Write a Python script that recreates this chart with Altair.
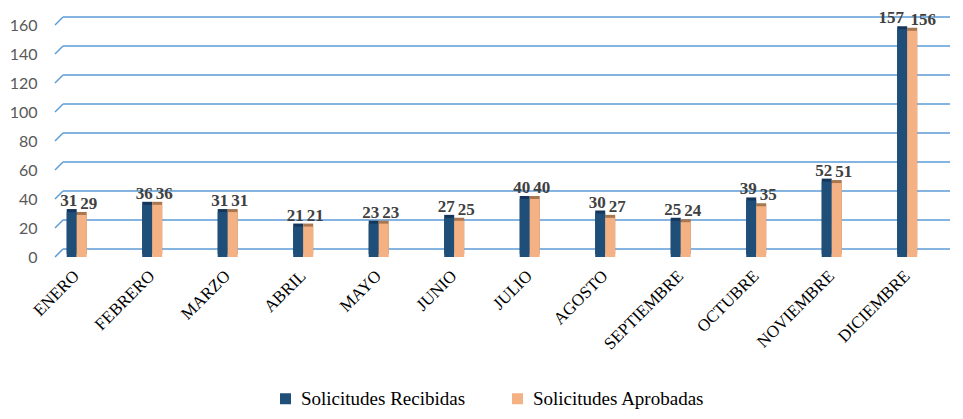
import altair as alt
import pandas as pd

months = ["ENERO", "FEBRERO", "MARZO", "ABRIL", "MAYO", "JUNIO", "JULIO",
          "AGOSTO", "SEPTIEMBRE", "OCTUBRE", "NOVIEMBRE", "DICIEMBRE"]
recibidas = [31, 36, 31, 21, 23, 27, 40, 30, 25, 39, 52, 157]
aprobadas = [29, 36, 31, 21, 23, 25, 40, 27, 24, 35, 51, 156]
series = ["Solicitudes Recibidas", "Solicitudes Aprobadas"]
y_ticks = [0, 20, 40, 60, 80, 100, 120, 140, 160]

rows = []
for m, r, a in zip(months, recibidas, aprobadas):
    rows.append({"mes": m, "serie": series[0], "valor": r})
    rows.append({"mes": m, "serie": series[1], "valor": a})
df = pd.DataFrame(rows)
grid_df = pd.DataFrame({"v": y_ticks})

W, H = 895, 232
SERIF = "Liberation Serif, DejaVu Serif, serif"
front_colors = ["#1F4E79", "#F4B183"]
side_colors = ["#15365A", "#A8764F"]

xscale = alt.Scale(domain=months, paddingInner=0.735, paddingOuter=0.2946, align=0.263)
yscale = alt.Scale(domain=[0, 160], nice=False)

x_axis = alt.Axis(title=None, labelAngle=-45, labelAlign="right",
                  labelBaseline="middle", labelFont=SERIF,
                  labelFontSize=17, labelColor="#000000", labelPadding=16,
                  domain=False, ticks=False, labelOverlap=False)
x_enc = alt.X("mes:N", sort=months, scale=xscale, axis=x_axis)
xo = alt.XOffset("serie:N", sort=series, scale=alt.Scale(domain=series, paddingInner=0, paddingOuter=0))

y_axis = alt.Axis(title=None, values=y_ticks, grid=False, domain=False,
                  ticks=False, labelFont="Lato", labelFontSize=16,
                  labelColor="#595959", labelPadding=18, labelOverlap=False)
y_enc = alt.Y("valor:Q", scale=yscale, axis=y_axis)

grid_back = alt.Chart(grid_df).mark_rule(color="#5B9BD5", strokeWidth=1.5, yOffset=-8, y2Offset=-8).encode(
    y=alt.Y("v:Q", scale=yscale, axis=y_axis),
    x=alt.value(8), x2=alt.value(W)
)
grid_slant = alt.Chart(grid_df).mark_rule(color="#5B9BD5", strokeWidth=1.5, y2Offset=-8).encode(
    y=alt.Y("v:Q", scale=yscale, axis=y_axis), y2="v:Q",
    x=alt.value(0), x2=alt.value(8)
)

color_side = alt.Color("serie:N", sort=series, scale=alt.Scale(domain=series, range=side_colors), legend=None)
color_front = alt.Color("serie:N", sort=series, scale=alt.Scale(domain=series, range=front_colors),
                        legend=alt.Legend(title=None, orient="none", legendX=221, legendY=364,
                                          direction="horizontal", symbolType="square", symbolSize=121,
                                          symbolStrokeWidth=0, labelFont=SERIF,
                                          labelFontSize=19, labelColor="#000000", labelOffset=6,
                                          labelLimit=0, columnPadding=42))

side = alt.Chart(df).mark_bar(xOffset=3, x2Offset=3, yOffset=-3, y2Offset=-3).encode(
    x=x_enc, xOffset=xo, y=y_enc, color=color_side
)
front = alt.Chart(df).mark_bar().encode(
    x=x_enc, xOffset=xo, y=y_enc, color=color_front
)
labels = alt.Chart(df).transform_calculate(
    off="datum.serie == 'Solicitudes Recibidas' ? (datum.valor >= 100 ? -6 : 2) : (datum.valor >= 100 ? 26 : 22)"
).mark_text(dy=-11, font=SERIF, fontWeight="bold", fontSize=17, color="#404040").encode(
    x=x_enc,
    xOffset=alt.XOffset("off:Q", scale=alt.Scale(domain=[0, 20], range=[0, 20])),
    y=y_enc, text="valor:Q"
)

chart = alt.layer(grid_back, grid_slant, side, front, labels).resolve_scale(
    color="independent", xOffset="independent").properties(
    width=W, height=H,
    autosize=alt.AutoSizeParams(type="none"),
    padding={"left": 47, "top": 17, "right": 5, "bottom": 154},
    background="white"
).configure_view(stroke=None)

chart.save("out.html", embed_options={"renderer": "svg", "actions": False})
